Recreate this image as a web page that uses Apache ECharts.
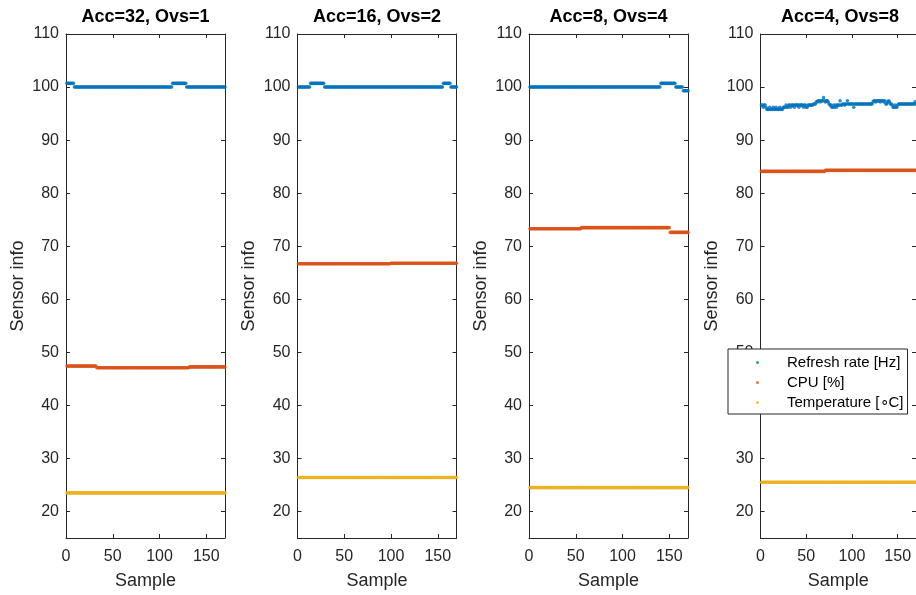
<!DOCTYPE html>
<html>
<head>
<meta charset="utf-8">
<script src="https://cdn.jsdelivr.net/npm/echarts@6/dist/echarts.min.js"></script>
<style>
  html, body { margin: 0; padding: 0; background: #ffffff; }
  #chart { width: 916px; height: 595px; }
</style>
</head>
<body>
<div id="chart"></div>
<script>
// Sensor readings for four accumulation / oversampling settings.
const panelTitles = ['Acc=32, Ovs=1', 'Acc=16, Ovs=2', 'Acc=8, Ovs=4', 'Acc=4, Ovs=8'];
const seriesNames = ['Refresh rate [Hz]', 'CPU [%]', 'Temperature [\u2218C]'];
const seriesColors = ['#0072BD', '#D95319', '#EDB120'];
const xTicks = [0, 50, 100, 150];
const yTicks = [20, 30, 40, 50, 60, 70, 80, 90, 100, 110];

// Runs of constant readings: [first sample, last sample, value]
const refreshAcc32 = [[1, 8, 100.7], [9, 113, 100], [114, 128, 100.7], [129, 170, 100]];
const cpuAcc32 = [[1, 32, 47.4], [33, 131, 47.1], [132, 170, 47.25]];
const tempAcc32 = [[1, 170, 23.5]];

const refreshAcc16 = [[1, 13, 100], [14, 28, 100.7], [29, 155, 100], [156, 163, 100.7], [164, 170, 100]];
const cpuAcc16 = [[1, 99, 66.7], [100, 170, 66.8]];
const tempAcc16 = [[1, 170, 26.4]];

const refreshAcc8 = [[1, 140, 100], [141, 156, 100.7], [157, 164, 100], [165, 170, 99.3]];
const cpuAcc8 = [[1, 55, 73.3], [56, 150, 73.5], [151, 170, 72.6]];
const tempAcc8 = [[1, 170, 24.5]];

// Refresh rate at Acc=4 varies sample by sample (samples 1..170)
const refreshAcc4 = [
  96.6, 96.6, 96.2, 96.6, 96.6, 96.2, 95.8, 95.8, 95.8, 96.2,
  95.8, 95.8, 95.8, 96.2, 95.8, 95.8, 96.2, 95.8, 95.8, 95.8,
  96.2, 95.8, 95.8, 95.8, 96.2, 96.2, 96.2, 96.6, 96.2, 96.2,
  96.6, 96.6, 96.2, 96.6, 96.6, 96.6, 96.2, 96.6, 96.6, 96.6,
  96.6, 96.2, 96.6, 96.6, 96.6, 96.6, 96.2, 96.6, 96.6, 96.2,
  96.2, 96.6, 96.6, 96.6, 96.6, 96.6, 96.6, 96.8, 96.8, 96.8,
  97.2, 97.2, 97.4, 97.4, 97.2, 97.4, 97.4, 97.4, 98.0, 97.4,
  97.2, 97.4, 97.4, 97.2, 96.8, 96.6, 96.6, 96.2, 96.2, 96.6,
  96.2, 96.6, 96.2, 96.6, 96.6, 96.6, 97.4, 96.6, 96.6, 96.8,
  96.8, 96.6, 96.8, 96.8, 97.4, 96.8, 96.8, 96.8, 96.8, 96.8,
  96.8, 96.2, 96.8, 96.8, 96.8, 96.8, 96.8, 96.8, 96.8, 96.8,
  96.8, 96.8, 96.8, 96.8, 96.8, 96.8, 96.8, 96.8, 96.8, 96.8,
  96.8, 96.8, 97.2, 97.4, 97.4, 97.2, 97.4, 97.4, 97.4, 97.4,
  97.2, 97.4, 97.4, 97.4, 97.2, 97.4, 96.8, 96.8, 97.2, 97.4,
  97.2, 96.8, 96.8, 96.6, 96.2, 96.2, 96.6, 96.2, 96.2, 96.6,
  96.8, 96.8, 96.8, 96.8, 96.8, 96.8, 96.8, 96.8, 96.8, 96.8,
  96.8, 96.8, 96.8, 96.8, 96.8, 96.8, 96.8, 96.8, 97.2, 96.8
];
const cpuAcc4 = [[1, 70, 84.1], [71, 170, 84.3]];
const tempAcc4 = [[1, 170, 25.5]];

function fromRuns(runs) {
  const pts = [];
  runs.forEach(([a, b, v]) => { for (let s = a; s <= b; s++) pts.push([s, v]); });
  return pts;
}
function fromList(values) {
  return values.map((v, i) => [i + 1, v]);
}

const panelData = [
  [fromRuns(refreshAcc32), fromRuns(cpuAcc32), fromRuns(tempAcc32)],
  [fromRuns(refreshAcc16), fromRuns(cpuAcc16), fromRuns(tempAcc16)],
  [fromRuns(refreshAcc8), fromRuns(cpuAcc8), fromRuns(tempAcc8)],
  [fromList(refreshAcc4), fromRuns(cpuAcc4), fromRuns(tempAcc4)]
];

const FONT = '"Liberation Sans", Arial, Helvetica, sans-serif';
const AXIS_COLOR = '#262626';
const gridLeft = [66, 297.5, 529, 760.5];
const gridWidth = 159;
const gridTop = 34;
const gridHeight = 507;

const grids = [], xAxes = [], yAxes = [], titles = [], series = [];
const axisLine = { show: true, onZero: false, lineStyle: { color: AXIS_COLOR, width: 1 } };

gridLeft.forEach((left, p) => {
  grids.push({ left: left, top: gridTop, width: gridWidth, height: gridHeight, containLabel: false });
  titles.push({
    text: panelTitles[p],
    left: left + gridWidth / 2,
    top: 8.5,
    padding: 0,
    textAlign: 'center',
    textStyle: { fontFamily: FONT, fontSize: 18, fontWeight: 'bold', color: '#000' }
  });
});

// bottom x axes (0..3), top x axes (4..7)
for (let k = 0; k < 8; k++) {
  const p = k % 4, bottom = k < 4;
  xAxes.push({
    type: 'value', gridIndex: p, min: 0, max: 170,
    position: bottom ? 'bottom' : 'top',
    axisLine: axisLine,
    axisTick: { show: true, inside: true, length: 4, customValues: xTicks, lineStyle: { color: AXIS_COLOR } },
    axisLabel: {
      show: bottom, customValues: xTicks, margin: 11,
      fontFamily: FONT, fontSize: 16, color: AXIS_COLOR
    },
    splitLine: { show: false },
    name: bottom ? 'Sample' : '',
    nameLocation: 'middle', nameGap: 34,
    nameTextStyle: { fontFamily: FONT, fontSize: 18, color: AXIS_COLOR }
  });
}
// left y axes (0..3), right y axes (4..7)
for (let k = 0; k < 8; k++) {
  const p = k % 4, left = k < 4;
  yAxes.push({
    type: 'value', gridIndex: p, min: 15, max: 110,
    position: left ? 'left' : 'right',
    axisLine: axisLine,
    axisTick: { show: true, inside: true, length: 4, customValues: yTicks, lineStyle: { color: AXIS_COLOR } },
    axisLabel: {
      show: left, customValues: yTicks, margin: 7,
      fontFamily: FONT, fontSize: 16, color: AXIS_COLOR
    },
    splitLine: { show: false },
    name: left ? 'Sensor info' : '',
    nameLocation: 'middle', nameGap: 39, nameRotate: 90,
    nameTextStyle: { fontFamily: FONT, fontSize: 18, color: AXIS_COLOR }
  });
}

panelData.forEach((sets, p) => {
  sets.forEach((data, s) => {
    series.push({
      type: 'scatter',
      name: seriesNames[s],
      xAxisIndex: p,
      yAxisIndex: p,
      data: data,
      symbol: 'circle',
      symbolSize: 3.6,
      itemStyle: { color: seriesColors[s] },
      emphasis: { disabled: true },
      silent: true
    });
  });
});

const chart = echarts.init(document.getElementById('chart'), null, { renderer: 'canvas' });
chart.setOption({
  animation: false,
  backgroundColor: '#ffffff',
  title: titles,
  grid: grids,
  xAxis: xAxes,
  yAxis: yAxes,
  legend: {
    show: true,
    data: seriesNames,
    orient: 'vertical',
    left: 728,
    top: 349,
    padding: [5, 4, 3, 28],
    itemWidth: 3,
    itemHeight: 3,
    itemGap: 3,
    icon: 'circle',
    selectedMode: false,
    backgroundColor: '#ffffff',
    borderColor: AXIS_COLOR,
    borderWidth: 1,
    borderRadius: 0,
    textStyle: { fontFamily: FONT, fontSize: 15, lineHeight: 17, color: '#000', padding: [0, 0, 0, 23] }
  },
  series: series
});
</script>
</body>
</html>
